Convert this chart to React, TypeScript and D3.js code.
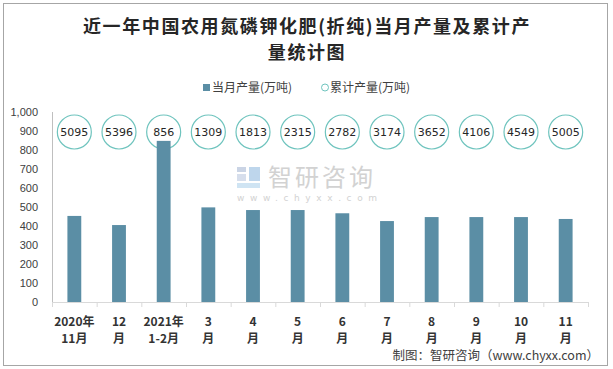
import React from 'react';
import * as d3 from 'd3';

// data
const categories = ['2020年\n11月', '12\n月', '2021年\n1-2月', '3\n月', '4\n月', '5\n月', '6\n月', '7\n月', '8\n月', '9\n月', '10\n月', '11\n月'];
const monthly = [453, 405, 848, 498, 484, 484, 467, 426, 447, 447, 447, 437];
const cumulative = [5095, 5396, 856, 1309, 1813, 2315, 2782, 3174, 3652, 4106, 4549, 5005];
const yTicks = [0, 100, 200, 300, 400, 500, 600, 700, 800, 900, 1000];

const W = 613;
const H = 369;
const margin = { top: 112, right: 25, bottom: 67, left: 52 };

const BAR = '#5b8ea5';
const CIRCLE = '#6fc4be';

export default function App() {
  const x = d3.scaleBand<number>()
    .domain(d3.range(categories.length))
    .range([margin.left, W - margin.right])
    .paddingInner(0.69)
    .paddingOuter(0.345);
  const band = d3.scaleBand<number>()
    .domain(d3.range(categories.length))
    .range([margin.left, W - margin.right]);
  const y = d3.scaleLinear().domain([0, 1000]).range([H - margin.bottom, margin.top]);
  const fmt = d3.format(',');
  const y0 = y(0);
  const circleY = 132;
  const mid = (i: number) => band(i)! + band.bandwidth() / 2;

  return (
    <div style={{ position: 'fixed', left: 0, top: 0 }}>
      <svg width={W} height={H} style={{ display: 'block', background: '#fff' }}>
        <rect x={3.5} y={3.5} width={604} height={362} fill="#fff" stroke="#a6a6a6" />

        {/* title */}
        <g fontFamily="Noto Sans CJK SC" fontWeight="bold" fontSize={18} letterSpacing={1.6} fill="#262626" textAnchor="middle">
          <text x={307} y={33}>近一年中国农用氮磷钾化肥(折纯)当月产量及累计产</text>
          <text x={307} y={59}>量统计图</text>
        </g>

        {/* legend */}
        <rect x={203} y={84} width={7} height={7} fill={BAR} />
        <text x={212} y={92} fontFamily="Noto Sans CJK SC" fontSize={12} fill="#404040">当月产量(万吨)</text>
        <circle cx={325} cy={87.5} r={3.5} fill="#fff" stroke={CIRCLE} strokeWidth={1} />
        <text x={330} y={92} fontFamily="Noto Sans CJK SC" fontSize={12} fill="#404040">累计产量(万吨)</text>

        {/* watermark */}
        <g opacity={0.75}>
          <rect x={237} y={167} width={9} height={5} fill="#b9c6dd" />
          <rect x={237} y={174} width={9} height={7} fill="#c9d3e6" />
          <rect x={249} y={167} width={11} height={14} fill="#a9c9e6" />
          <rect x={237} y={183} width={23} height={5} fill="#c0dbef" />
          <text x={268} y={186} fontFamily="Noto Sans CJK SC" fontSize={24} letterSpacing={3} fill="#c4c4c4">智研咨询</text>
          <text x={237} y={201} fontFamily="DejaVu Sans" fontSize={9} letterSpacing={5.6} fill="#c4c4c4">www.chyxx.com</text>
        </g>

        {/* y axis */}
        <line x1={margin.left + 0.5} x2={margin.left + 0.5} y1={y(1000)} y2={y0} stroke="#bfbfbf" />
        {yTicks.map(t => (
          <text key={t} x={38} y={y(t) + 4} textAnchor="end" fontFamily="Liberation Sans" fontSize={11} fill="#404040">
            {fmt(t)}
          </text>
        ))}

        {/* cumulative circles (outline only, bars draw over them) */}
        {cumulative.map((v, i) => (
          <circle key={i} cx={mid(i)} cy={circleY} r={17} fill="none" stroke={CIRCLE} strokeWidth={1.2} />
        ))}

        {/* bars */}
        {monthly.map((v, i) => (
          <rect key={i} x={x(i)} y={y(v)} width={x.bandwidth()} height={y0 - y(v)} fill={BAR} />
        ))}

        {cumulative.map((v, i) => (
          <text key={i} x={mid(i)} y={circleY + 4} textAnchor="middle" fontFamily="DejaVu Sans" fontSize={11} fill="#262626">{v}</text>
        ))}

        {/* x axis */}
        <line x1={margin.left} x2={W - margin.right} y1={y0 + 0.5} y2={y0 + 0.5} stroke="#d9d9d9" />
        {d3.range(categories.length + 1).map(i => {
          const xx = i < categories.length ? band(i)! : W - margin.right;
          return <line key={i} x1={xx + 0.5} x2={xx + 0.5} y1={y0} y2={y0 + 5} stroke="#d9d9d9" />;
        })}
        {categories.map((c, i) => {
          const [a, b] = c.split('\n');
          return (
            <g key={i} fontFamily="Noto Sans CJK SC" fontWeight="bold" fontSize={12} fill="#333" textAnchor="middle">
              <text x={mid(i)} y={326}>{a}</text>
              <text x={mid(i)} y={343}>{b}</text>
            </g>
          );
        })}

        {/* source */}
        <text x={599} y={360} textAnchor="end" fontFamily="Noto Sans CJK SC" fontSize={12.5} fill="#404040">
          制图：智研咨询（www.chyxx.com）
        </text>
      </svg>
    </div>
  );
}
